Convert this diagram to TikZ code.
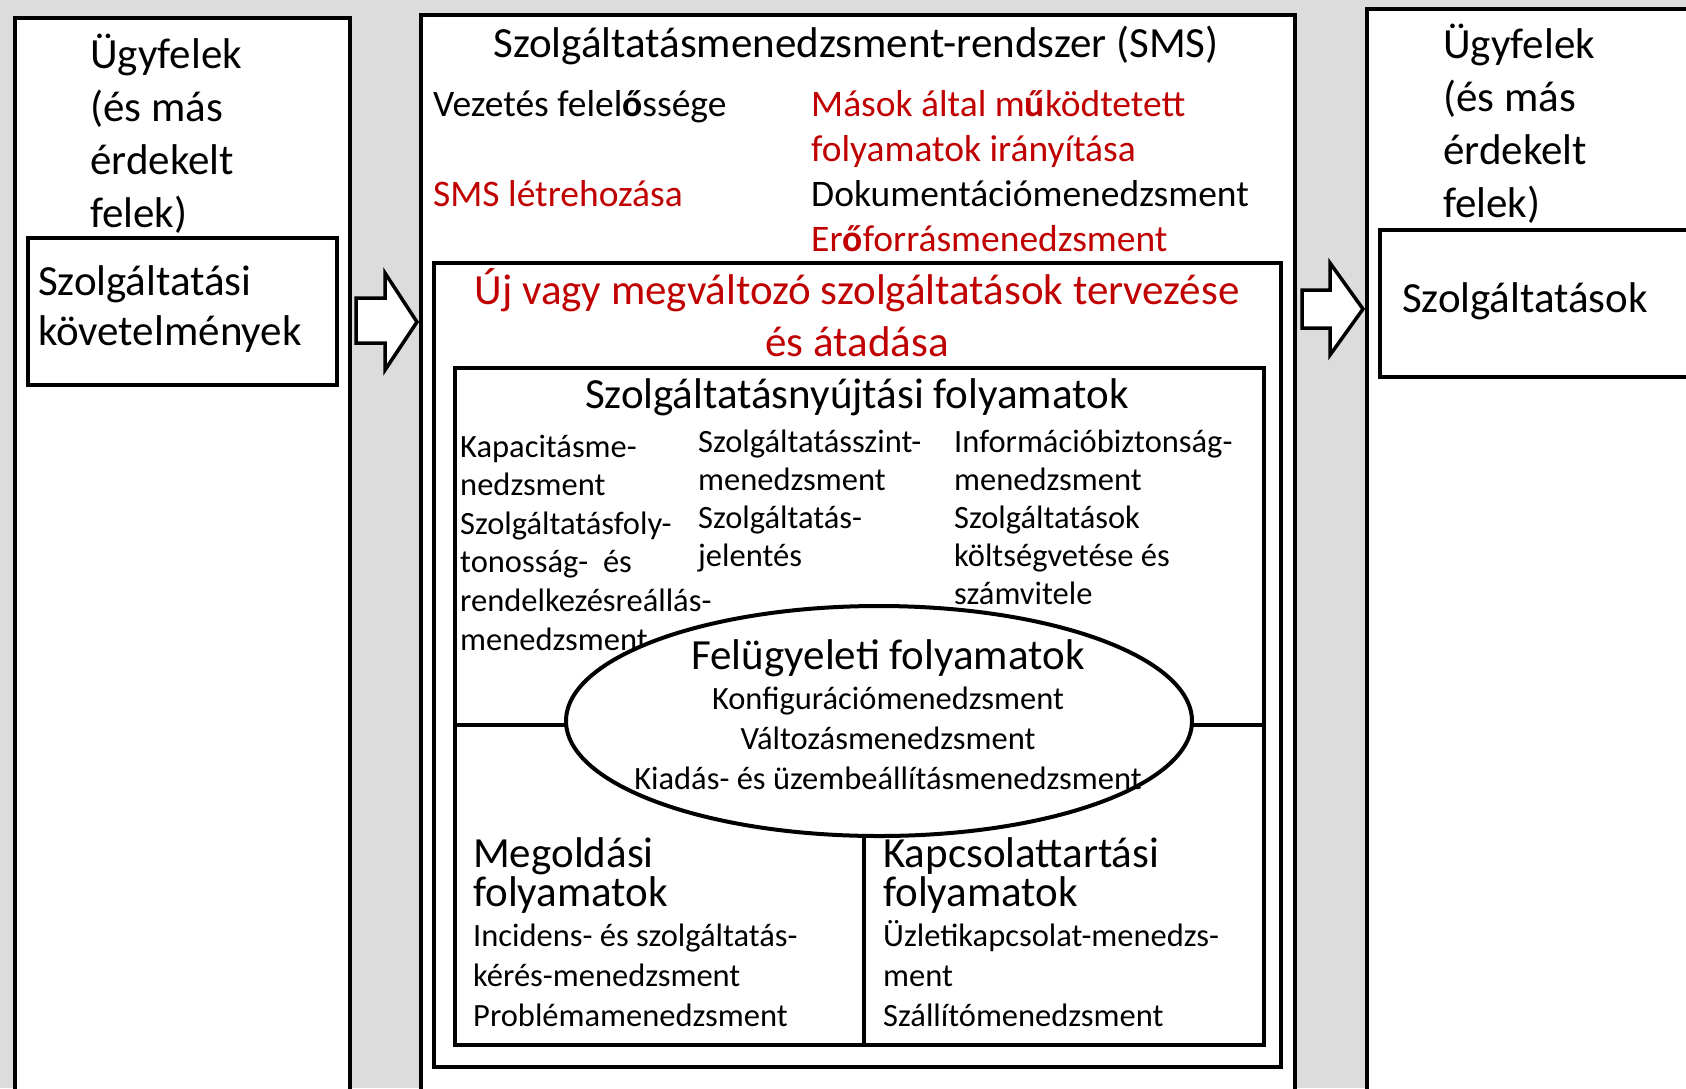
\documentclass[tikz,border=0pt]{standalone}
\usepackage{fontspec}
\setmainfont{Carlito}
\usetikzlibrary{shapes.geometric}
\definecolor{pagebg}{RGB}{220,220,220}
\definecolor{accent}{RGB}{192,0,0}
\begin{document}
\begin{tikzpicture}[x=1pt,y=-1pt,
  frame/.style={draw=black,line width=3.5pt,line join=miter},
  panel/.style={frame,fill=white},
  blockarrow/.style={draw=black,line width=3.5pt,fill=white,line join=miter},
  txtL/.style={font=\fontsize{43}{53}\selectfont,inner sep=0pt,align=left},
  txtM/.style={font=\fontsize{37.5}{45}\selectfont,inner sep=0pt,align=left},
  txtS/.style={font=\fontsize{32.5}{38.5}\selectfont,inner sep=0pt,align=left},
  lw/.style={anchor=base west},
  lc/.style={anchor=base,align=center}]
% page and clipping
\path[use as bounding box] (0,0) rectangle (1686,1088);
\clip (0,0) rectangle (1686,1088);
\fill[pagebg] (0,0) rectangle (1686,1088);
% (multi-line nodes are placed by the baseline of their last line)

% ---- left column: customers and requirements
\draw[panel] (15,18) rectangle (350,1110);
\node[txtL,lw] (custL) at (90,227) {Ügyfelek\\(és más\\érdekelt\\felek)};
\draw[frame] (28,238) rectangle (337,385);
\node[txtL,lw,font=\fontsize{43}{50}\selectfont] (req) at (38,345) {Szolgáltatási\\követelmények};

% ---- middle column: the management system
\draw[panel] (421,15) rectangle (1295,1110);
\node[txtL,lc] (sms) at (856,57) {Szolgáltatásmenedzsment-rendszer (SMS)};
\node[txtM,lw] (lead) at (433,116) {Vezetés felel\textbf{ő}ssége};
\node[txtM,lw,text=accent] (estab) at (433,206) {SMS létrehozása};
\node[txtM,lw,text=accent] (gov) at (811,161) {Mások által m\textbf{ű}ködtetett\\folyamatok irányítása};
\node[txtM,lw] (docm) at (811,206) {Dokumentációmenedzsment};
\node[txtM,lw,text=accent] (resm) at (811,251) {Er\textbf{ő}forrásmenedzsment};

\draw[frame] (434,263) rectangle (1281,1067);
\node[txtL,lc,text=accent,font=\fontsize{43}{52}\selectfont] (design) at (857,356)
  {Új vagy megváltozó szolgáltatások tervezése\\és átadása};

\draw[frame] (455,368) rectangle (1264,1045);
\node[txtL,lc] (deliv) at (857,408) {Szolgáltatásnyújtási folyamatok};
\node[txtS,lw,font=\fontsize{32.5}{38.6}\selectfont] (colA) at (460,650)
  {Kapacitásme-\\nedzsment\\Szolgáltatásfoly-\\tonosság-\ \ és\\rendelkezésreállás-\\menedzsment};
\node[txtS,lw,font=\fontsize{32.5}{38}\selectfont] (colB) at (698,566)
  {Szolgáltatásszint-\\menedzsment\\Szolgáltatás-\\jelentés};
\node[txtS,lw,font=\fontsize{32.5}{38}\selectfont] (colC) at (954,604)
  {Információbiztonság-\\menedzsment\\Szolgáltatások\\költségvetése és\\számvitele};

% dividers between the process groups
\draw[frame] (455,725) -- (1264,725);
\draw[frame] (864,725) -- (864,1045);

% control processes
\node[ellipse,draw=black,line width=4pt,fill=white,inner sep=0pt,
      minimum width=626,minimum height=230] (ctrl) at (879,721) {};
\node[txtL,lc] (ctrlT) at (888,669) {Felügyeleti folyamatok};
\node[txtS,lc,font=\fontsize{32.5}{40}\selectfont] (ctrlL) at (888,789)
  {Konfigurációmenedzsment\\Változásmenedzsment\\Kiadás- és üzembeállításmenedzsment};

% resolution and relationship processes
\node[txtL,lw,font=\fontsize{43}{39}\selectfont] (solvT) at (473,906) {Megoldási\\folyamatok};
\node[txtS,lw,font=\fontsize{32.5}{40}\selectfont] (solvL) at (473,1026)
  {Incidens- és szolgáltatás-\\kérés-menedzsment\\Problémamenedzsment};
\node[txtL,lw,font=\fontsize{43}{39}\selectfont] (relT) at (883,906) {Kapcsolattartási\\folyamatok};
\node[txtS,lw,font=\fontsize{32.5}{40}\selectfont] (relL) at (883,1026)
  {Üzletikapcsolat-menedzs-\\ment\\Szállítómenedzsment};

% ---- right column: customers and services
\draw[panel] (1367,9) rectangle (1700,1110);
\node[txtL,lw] (custR) at (1443,217) {Ügyfelek\\(és más\\érdekelt\\felek)};
\draw[frame] (1380,230) rectangle (1700,377);
\node[txtL,lw] (svc) at (1402,312) {Szolgáltatások};

% ---- block arrows between the columns
\draw[blockarrow] (356,298) -- (385,298) -- (385,273) -- (417,322)
  -- (385,370) -- (385,343) -- (356,343) -- cycle;
\draw[blockarrow] (1302,290) -- (1330,290) -- (1330,263) -- (1363,309)
  -- (1330,355) -- (1330,328) -- (1302,328) -- cycle;
\end{tikzpicture}
\end{document}
